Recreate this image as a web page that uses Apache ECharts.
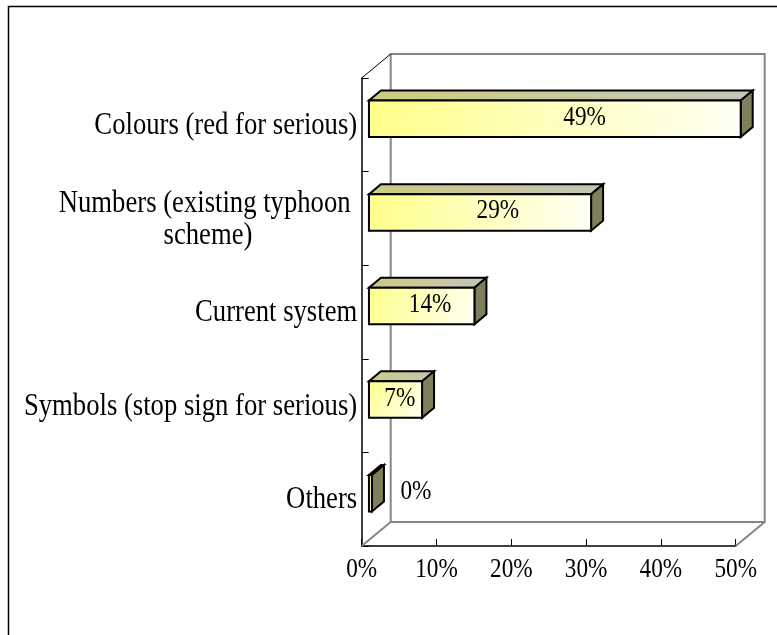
<!DOCTYPE html>
<html><head><meta charset="utf-8">
<script src="https://cdn.jsdelivr.net/npm/echarts@6.0.0/dist/echarts.min.js"></script>
<style>html,body{margin:0;padding:0;background:#fff}#c{width:777px;height:635px}</style>
</head><body><div id="c"></div>
<script>
// ---- data ----
const categories = ['Colours (red for serious)', 'Numbers (existing typhoon \nscheme)', 'Current system', 'Symbols (stop sign for serious)', 'Others'];
const values = [49.7, 29.7, 14.1, 7.1, 0.4];
const valueLabels = ['49%', '29%', '14%', '7%', '0%'];
const xTicks = [0, 10, 20, 30, 40, 50];
const xTickLabels = ['0%', '10%', '20%', '30%', '40%', '50%'];

// ---- style constants ----
const FONT = '"Liberation Serif", "Times New Roman", serif';
const SQUEEZE = 0.86;          // horizontal squeeze of the original text
const CAT_FONT = '31px ' + FONT;
const NUM_FONT = '27px ' + FONT;
const DEPTH = [29, -24];      // wall depth vector (px)
const BAR_D0 = 0.25;          // bar front position in depth
const BAR_DEPTH = [12, -10];  // bar depth vector (px)
const BAR_H = 0.39;           // bar thickness as fraction of band

const chart = echarts.init(document.getElementById('c'), null, {renderer: 'canvas'});

function squeezedText(text, x, y, font, align, extra) {
  return {type: 'text', x: x, y: y, scaleX: SQUEEZE, scaleY: 1,
    style: Object.assign({text: text, x: 0, y: 0, align: align, verticalAlign: 'middle', font: font, fill: '#000'}, extra || {})};
}

function wallItem(params, api) {
  const cs = params.coordSys;
  const L = cs.x, T = cs.y, R = cs.x + cs.width, B = cs.y + cs.height;
  const dx = DEPTH[0], dy = DEPTH[1];
  const gray = '#868686';
  const children = [
    {type: 'rect', shape: {x: L + dx, y: T + dy, width: cs.width, height: cs.height}, style: {stroke: gray, lineWidth: 2, fill: null}},
    {type: 'line', shape: {x1: L, y1: B, x2: L + dx, y2: B + dy}, style: {stroke: gray, lineWidth: 2}},
    {type: 'line', shape: {x1: R, y1: B, x2: R + dx, y2: B + dy}, style: {stroke: gray, lineWidth: 2}},
    {type: 'line', shape: {x1: L, y1: T, x2: L + dx, y2: T + dy}, style: {stroke: '#000', lineWidth: 1}}
  ];
  xTicks.forEach(function (t, i) {
    const p = api.coord([t, 0]);
    children.push(squeezedText(xTickLabels[i], p[0], B + 24, NUM_FONT, 'center'));
  });
  return {type: 'group', children: children};
}

function barItem(params, api) {
  const cs = params.coordSys;
  const v = api.value(0), c = api.value(1);
  const p0 = api.coord([0, c]);
  const p1 = api.coord([v, c]);
  const band = api.size([0, 1])[1];
  const h = band * BAR_H;
  const ox = DEPTH[0] * BAR_D0, oy = DEPTH[1] * BAR_D0;
  const x0 = p0[0] + ox, x1 = p1[0] + ox;
  const yT = p0[1] - h / 2 + oy, yB = yT + h;
  const bx = BAR_DEPTH[0], by = BAR_DEPTH[1];
  const w = x1 - x0;
  const lx = w > 40 ? x0 + 0.58 * w : x1 + 44;
  const stroke = {stroke: '#000', lineWidth: 2, lineJoin: 'miter'};
  const cat = categories[params.dataIndex];
  let catText;
  if (cat.indexOf('\n') >= 0) {
    catText = squeezedText(cat.split('\n').map(function (s) { return '{c|' + s + '}'; }).join('\n'),
      cs.x - 4.5, p0[1] + 1, CAT_FONT, 'right',
      {rich: {c: {align: 'center', font: CAT_FONT, lineHeight: 32, fill: '#000'}}});
  } else {
    catText = squeezedText(cat, cs.x - 4.5, p0[1] + 1, CAT_FONT, 'right');
  }
  return {type: 'group', children: [
    {type: 'polygon', shape: {points: [[x0, yT], [x0 + bx, yT + by], [x1 + bx, yT + by], [x1, yT]]},
      style: Object.assign({fill: new echarts.graphic.LinearGradient(0, 0, 1, 0, [
        {offset: 0, color: '#cccc80'}, {offset: 1, color: '#c4c4b8'}])}, stroke)},
    {type: 'polygon', shape: {points: [[x1, yT], [x1 + bx, yT + by], [x1 + bx, yB + by], [x1, yB]]},
      style: Object.assign({fill: '#7f7f5c'}, stroke)},
    {type: 'rect', shape: {x: x0, y: yT, width: w, height: h},
      style: Object.assign({fill: new echarts.graphic.LinearGradient(0, 0, 1, 1, [
        {offset: 0, color: '#ffff88'}, {offset: 1, color: '#fffff6'}])}, stroke)},
    squeezedText(valueLabels[params.dataIndex], lx, (yT + yB) / 2 - 1, NUM_FONT, 'center'),
    catText
  ]};
}

chart.setOption({
  animation: false,
  backgroundColor: '#fff',
  graphic: [{type: 'rect', left: 6, top: 4, shape: {width: 1000, height: 1000},
    style: {fill: null, stroke: '#000', lineWidth: 1.5}, silent: true}],
  grid: {left: 361.7, top: 78, width: 374, height: 468, containLabel: false, outerBoundsMode: 'none'},
  xAxis: {type: 'value', min: xTicks[0], max: xTicks[xTicks.length - 1], interval: xTicks[1] - xTicks[0],
    axisLine: {show: true, lineStyle: {color: '#000', width: 1.5}},
    axisTick: {show: true, inside: true, length: 7, lineStyle: {color: '#000'}},
    splitLine: {show: false},
    axisLabel: {show: false}},
  yAxis: {type: 'category', data: categories, inverse: true,
    axisLine: {show: true, lineStyle: {color: '#000', width: 1.5}},
    axisTick: {show: true, inside: true, length: 7, lineStyle: {color: '#000'}},
    splitLine: {show: false},
    axisLabel: {show: false}},
  series: [
    {type: 'custom', name: 'wall', renderItem: wallItem, data: [[0, 0]], z: 1, silent: true},
    {type: 'custom', name: 'bars', renderItem: barItem, z: 3,
      encode: {x: 0, y: 1},
      data: values.map(function (v, i) { return [v, i]; })}
  ]
});
</script></body></html>
